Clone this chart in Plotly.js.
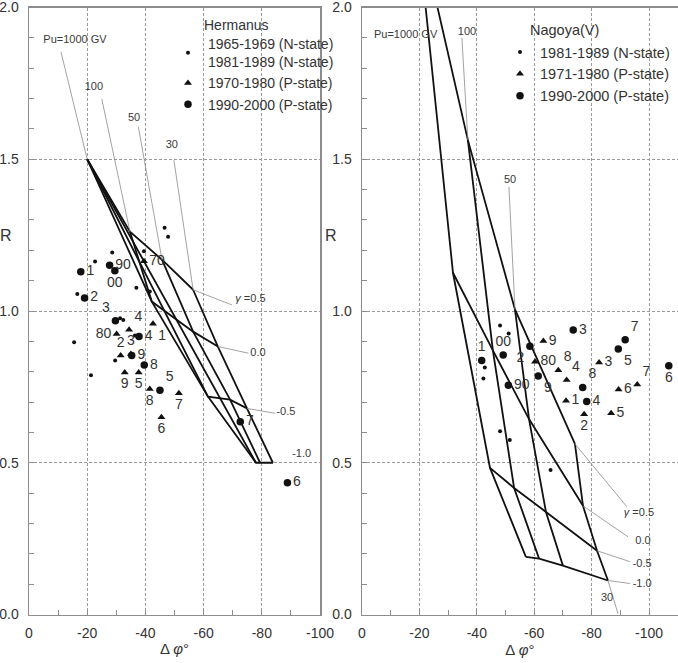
<!DOCTYPE html>
<html><head><meta charset="utf-8">
<script src="https://cdn.plot.ly/plotly-3.0.1.min.js"></script>
<style>html,body{margin:0;padding:0;background:#fff}#chart{width:678px;height:663px}</style>
</head><body><div id="chart"></div>
<script>
// ---------------- data ----------------
const xTickVals = [0, -20, -40, -60, -80, -100];
const xTickText = ["0", "-20", "-40", "-60", "-80", "-100"];
const puLabels = ["Pu=1000 GV", "100", "50", "30"];
const gammaLabels = ["<i>γ</i> =0.5", "0.0", "-0.5", "-1.0"];

// Hermanus: model grid [gamma 0.5, 0.0, -0.5, -1.0][Pu 1000, 100, 50, 30]
const hermGridDphi = [
  [-20, -34.7, -45.7, -56.4],
  [-20, -42.2, -56.4, -64.9],
  [-20, -61.5, -69.1, -74.9],
  [-20, -78.0, -79.4, -83.8]
];
const hermGridR = [
  [1.5, 1.261, 1.169, 1.070],
  [1.5, 1.031, 0.932, 0.883],
  [1.5, 0.718, 0.708, 0.679],
  [1.5, 0.500, 0.500, 0.500]
];
// Hermanus observations
const hermN_Dphi = [-46.6, -47.8, -28.6, -39.5, -22.7, -36.9, -41.5, -16.6, -15.5, -21.3, -29.6, -31.3, -32.4, -36.4];
const hermN_R    = [1.274, 1.245, 1.193, 1.197, 1.163, 1.077, 1.064, 1.056, 0.897, 0.788, 0.837, 0.976, 0.970, 0.919];
const hermTri_Lbl  = ["70", "1", "2", "3", "4", "5", "6", "7", "8", "9", "80"];
const hermTri_Dphi = [-39.5, -42.6, -31.5, -35.0, -34.4, -37.7, -45.5, -51.5, -41.5, -32.9, -30.1];
const hermTri_R    = [1.164, 0.958, 0.853, 0.858, 0.938, 0.797, 0.650, 0.729, 0.743, 0.797, 0.924];
const hermCir_Lbl  = ["90", "1", "2", "3", "4", "5", "6", "7", "8", "9", "00"];
const hermCir_Dphi = [-27.7, -17.8, -19.1, -29.7, -37.8, -45.0, -88.8, -72.6, -39.6, -35.3, -29.5];
const hermCir_R    = [1.151, 1.129, 1.043, 0.968, 0.916, 0.739, 0.434, 0.635, 0.822, 0.853, 1.133];

// Nagoya(V): model grid
const nagGridDphi = [
  [-18.8, -36.9, -53.3, -74.2],
  [-31.7, -45.6, -58.2, -77.0],
  [-44.6, -53.0, -64.1, -81.9],
  [-57.1, -61.7, -70.0, -85.7]
];
const nagGridR = [
  [2.31, 1.563, 1.005, 0.562],
  [1.126, 0.870, 0.644, 0.358],
  [0.483, 0.417, 0.338, 0.210],
  [0.190, 0.184, 0.161, 0.112]
];
const nagN_Dphi = [-48.1, -51.1, -42.8, -42.3, -48.1, -51.5, -65.7];
const nagN_R    = [0.952, 0.926, 0.814, 0.778, 0.604, 0.575, 0.476];
const nagTri_Lbl  = ["1", "2", "3", "4", "5", "6", "7", "8", "9", "80"];
const nagTri_Dphi = [-71.1, -77.4, -82.6, -71.3, -86.8, -89.4, -95.9, -68.4, -63.2, -60.3];
const nagTri_R    = [0.704, 0.660, 0.830, 0.773, 0.663, 0.741, 0.758, 0.805, 0.901, 0.833];
const nagCir_Lbl  = ["90", "1", "2", "3", "4", "5", "6", "7", "8", "9", "00"];
const nagCir_Dphi = [-51.0, -41.7, -58.5, -73.6, -78.3, -89.3, -106.9, -91.7, -76.9, -61.4, -49.2];
const nagCir_R    = [0.755, 0.837, 0.884, 0.937, 0.702, 0.875, 0.820, 0.905, 0.748, 0.786, 0.855];

// model-label anchors and leader lines (start near label -> model vertex)
const hermPuLblDphi = [-15.8, -22.3, -36.1, -49.1];
const hermPuLblR    = [1.891, 1.738, 1.634, 1.546];
const hermGamLblDphi = [-76.1, -78.7, -88.3, -93.7];
const hermGamLblR    = [1.038, 0.860, 0.665, 0.527];
const hermLeadDphi = [[-11.0, -20], [-25.0, -34.7], [-37.6, -45.7], [-49.8, -56.4], [-56.4, -69.7], [-64.9, -75.4], [-74.9, -84.5]];
const hermLeadR    = [[1.853, 1.5], [1.699, 1.261], [1.606, 1.169], [1.497, 1.070], [1.070, 1.020], [0.883, 0.861], [0.679, 0.663]];

const nagPuLblDphi = [-15.2, -36.6, -51.6, -85.4];
const nagPuLblR    = [1.908, 1.918, 1.432, 0.053];
const nagGamLblDphi = [-96.5, -97.9, -97.6, -97.6];
const nagGamLblR    = [0.332, 0.240, 0.167, 0.099];
const nagLeadDphi = [[-34.8, -36.9], [-51.2, -53.3], [-74.2, -92.3], [-77.0, -92.7], [-81.9, -93.4], [-85.7, -93.4], [-85.7, -89.2]];
const nagLeadR    = [[1.90, 1.563], [1.409, 1.005], [0.562, 0.355], [0.358, 0.256], [0.210, 0.174], [0.112, 0.102], [0.112, 0.003]];

// ---------------- styles ----------------
const hermTriPos = ["middle right","bottom right","top center","top center","top right","bottom center","bottom center","bottom center","bottom center","bottom center","middle left"];
const hermCirPos = ["middle right","middle right","middle right","top left","middle right","top right","middle right","middle right","middle right","middle right","bottom center"];
const nagTriPos = ["middle right","bottom center","middle right","top right","middle right","middle right","top right","top right","middle right","middle right"];
const nagCirPos = ["middle right","top center","bottom left","middle right","middle right","bottom right","bottom center","top right","top right","bottom right","top center"];

const FONT = "Liberation Sans, Arial, sans-serif";
const INK = "#111";
const TXT = "#333";
const LINEW = 1.8;

const traces = [];
function gridTraces(gd, gr, xa, ya) {
  for (let i = 0; i < gd.length; i++) {
    traces.push({x: gd[i], y: gr[i], xaxis: xa, yaxis: ya, mode: "lines", type: "scatter",
      line: {color: INK, width: LINEW}, showlegend: false, hoverinfo: "skip"});
  }
  for (let j = 0; j < gd[0].length; j++) {
    traces.push({x: gd.map(r => r[j]), y: gr.map(r => r[j]), xaxis: xa, yaxis: ya, mode: "lines", type: "scatter",
      line: {color: INK, width: LINEW}, showlegend: false, hoverinfo: "skip"});
  }
}
function leaderTrace(ld, lr, xa, ya) {
  const x = [], y = [];
  ld.forEach((p, i) => { x.push(p[0], p[1], null); y.push(lr[i][0], lr[i][1], null); });
  traces.push({x, y, xaxis: xa, yaxis: ya, mode: "lines", type: "scatter",
    line: {color: "#8a8a8a", width: 0.8}, showlegend: false, hoverinfo: "skip"});
}
function labelTrace(xs, ys, txt, xa, ya, size) {
  traces.push({x: xs, y: ys, text: txt, xaxis: xa, yaxis: ya, mode: "text", type: "scatter",
    textposition: "middle center", textfont: {family: FONT, size: size, color: "#3a3a3a"},
    showlegend: false, hoverinfo: "skip", cliponaxis: false});
}
function markerTrace(xs, ys, name, sym, size, xa, ya, leg) {
  traces.push({x: xs, y: ys, name: name, xaxis: xa, yaxis: ya, mode: "markers", type: "scatter",
    marker: {symbol: sym, size: size, color: INK, line: {width: 0}}, legend: leg, cliponaxis: false});
}
function pointLabels(xs, ys, lbl, pos, size, xa, ya) {
  traces.push({x: xs, y: ys, text: lbl, xaxis: xa, yaxis: ya, mode: "markers+text", type: "scatter",
    marker: {size: size, color: "rgba(0,0,0,0)"}, textposition: pos,
    textfont: {family: FONT, size: 14, color: TXT}, showlegend: false, hoverinfo: "skip", cliponaxis: false});
}

// left panel
gridTraces(hermGridDphi, hermGridR, "x", "y");
leaderTrace(hermLeadDphi, hermLeadR, "x", "y");
labelTrace(hermPuLblDphi, hermPuLblR, puLabels, "x", "y", 11);
labelTrace(hermGamLblDphi, hermGamLblR, gammaLabels, "x", "y", 11);
markerTrace(hermN_Dphi, hermN_R, "1965-1969 (N-state)<br>1981-1989 (N-state)", "circle", 4, "x", "y", "legend");
markerTrace(hermTri_Dphi, hermTri_R, "1970-1980 (P-state)", "triangle-up", 7, "x", "y", "legend");
markerTrace(hermCir_Dphi, hermCir_R, "1990-2000 (P-state)", "circle", 7.5, "x", "y", "legend");
pointLabels(hermTri_Dphi, hermTri_R, hermTri_Lbl, hermTriPos, 7, "x", "y");
pointLabels(hermCir_Dphi, hermCir_R, hermCir_Lbl, hermCirPos, 7.5, "x", "y");

// right panel
gridTraces(nagGridDphi, nagGridR, "x2", "y2");
leaderTrace(nagLeadDphi, nagLeadR, "x2", "y2");
labelTrace(nagPuLblDphi, nagPuLblR, puLabels, "x2", "y2", 11);
labelTrace(nagGamLblDphi, nagGamLblR, gammaLabels, "x2", "y2", 11);
markerTrace(nagN_Dphi, nagN_R, "1981-1989 (N-state)", "circle", 4, "x2", "y2", "legend2");
markerTrace(nagTri_Dphi, nagTri_R, "1971-1980 (P-state)", "triangle-up", 7, "x2", "y2", "legend2");
markerTrace(nagCir_Dphi, nagCir_R, "1990-2000 (P-state)", "circle", 7.5, "x2", "y2", "legend2");
pointLabels(nagTri_Dphi, nagTri_R, nagTri_Lbl, nagTriPos, 7, "x2", "y2");
pointLabels(nagCir_Dphi, nagCir_R, nagCir_Lbl, nagCirPos, 7.5, "x2", "y2");

const W = 678, H = 663;
const yDom = [1 - 614.5 / H, 1 - 7.5 / H];
function xAxis(dom, rng, anchor) {
  return {domain: dom, range: rng, anchor: anchor, tickmode: "array", tickvals: xTickVals, ticktext: xTickText,
    showline: true, linecolor: "#8c8c8c", linewidth: 1.5, mirror: true,
    ticks: "inside", ticklen: 5, tickcolor: "#8c8c8c", tickwidth: 1,
    minor: {tickmode: "linear", tick0: 0, dtick: 10, ticks: "inside", ticklen: 5, tickcolor: "#8c8c8c", showgrid: false},
    showgrid: true, gridcolor: "#9a9a9a", gridwidth: 1, griddash: "3px,2px", zeroline: false,
    tickfont: {family: FONT, size: 14, color: TXT}, ticklabelstandoff: 5, ticklabeloverflow: "allow",
    title: {text: "Δ <i>φ</i>°", font: {family: FONT, size: 15, color: TXT}, standoff: 3}, fixedrange: true};
}
function yAxis(anchor) {
  return {domain: yDom, range: [0, 2], anchor: anchor, tick0: 0, dtick: 0.5, tickformat: ".1f",
    showline: true, linecolor: "#8c8c8c", linewidth: 1.5, mirror: true,
    ticks: "inside", ticklen: 5, tickcolor: "#8c8c8c", tickwidth: 1,
    minor: {tick0: 0, dtick: 0.1, ticks: "inside", ticklen: 5, tickcolor: "#8c8c8c", showgrid: false},
    showgrid: true, gridcolor: "#9a9a9a", gridwidth: 1, griddash: "3px,2px", zeroline: false,
    tickfont: {family: FONT, size: 14, color: TXT}, ticklabelstandoff: 6, ticklabeloverflow: "allow", fixedrange: true};
}
const legendCommon = {xanchor: "left", yanchor: "top", bgcolor: "rgba(0,0,0,0)", borderwidth: 0,
  itemsizing: "trace", traceorder: "normal"};

const layout = {
  width: W, height: H, margin: {l: 0, r: 0, t: 0, b: 0},
  paper_bgcolor: "#fff", plot_bgcolor: "#fff",
  font: {family: FONT, color: TXT},
  xaxis: xAxis([29 / W, 320 / W], [0, -100], "y"),
  yaxis: yAxis("x"),
  xaxis2: xAxis([362 / W, 677.7 / W], [0, -110], "y2"),
  yaxis2: yAxis("x2"),
  legend: Object.assign({x: 168 / W, y: 1 - 28 / H, font: {family: FONT, size: 14, color: TXT}}, legendCommon),
  legend2: Object.assign({x: 500 / W, y: 1 - 36 / H, font: {family: FONT, size: 14.5, color: TXT}}, legendCommon),
  annotations: [
    {text: "R", xref: "paper", yref: "paper", x: 6 / W, y: 1 - 235 / H, xanchor: "center", yanchor: "middle", showarrow: false, font: {family: FONT, size: 16, color: TXT}},
    {text: "R", xref: "paper", yref: "paper", x: 331 / W, y: 1 - 235 / H, xanchor: "center", yanchor: "middle", showarrow: false, font: {family: FONT, size: 16, color: TXT}},
    {text: "Hermanus", xref: "paper", yref: "paper", x: 202 / W, y: 1 - 25 / H, xanchor: "left", yanchor: "middle", showarrow: false, font: {family: FONT, size: 14, color: TXT}},
    {text: "Nagoya(V)", xref: "paper", yref: "paper", x: 528 / W, y: 1 - 30 / H, xanchor: "left", yanchor: "middle", showarrow: false, font: {family: FONT, size: 14.5, color: TXT}}
  ]
};
Plotly.newPlot("chart", traces, layout, {displayModeBar: false, staticPlot: true});
</script>
</body></html>
